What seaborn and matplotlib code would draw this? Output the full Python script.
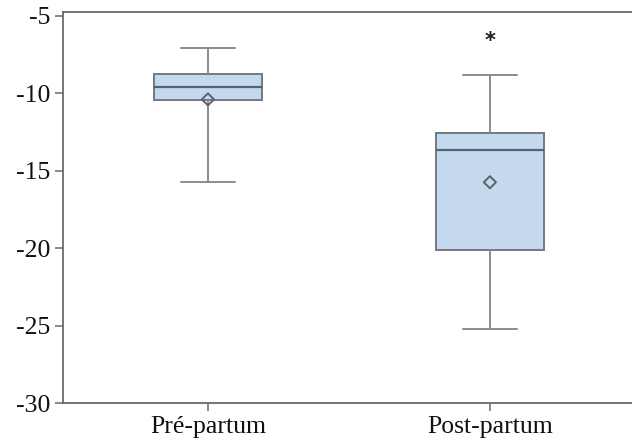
import numpy as np
import pandas as pd
import matplotlib
matplotlib.use("Agg")
import matplotlib.pyplot as plt
import seaborn as sns

# Data: five-number summaries
categories = ["Pré-partum", "Post-partum"]
whisker_low = [-15.75, -25.2]
q1 = [-10.43, -20.1]
median = [-9.62, -13.64]
q3 = [-8.74, -12.6]
whisker_high = [-7.06, -8.81]
means = [-10.4, -15.75]
signif_labels = ["", "*"]
signif_y = [None, -6.65]

rows = []
for i, c in enumerate(categories):
    for v in (whisker_low[i], q1[i], median[i], q3[i], whisker_high[i]):
        rows.append({"group": c, "value": v})
df = pd.DataFrame(rows)
mean_df = pd.DataFrame({"group": categories, "value": means})

sns.set_style("white")
plt.rcParams["font.family"] = ["Liberation Serif", "DejaVu Serif"]

fig = plt.figure(figsize=(6.32, 4.47), dpi=100)
ax = fig.add_axes([63 / 632, 1 - 403 / 447, 1 - 63 / 632, (403 - 12) / 447])

edge = "#72797f"
sns.boxplot(data=df, x="group", y="value", order=categories, whis=(0, 100),
            width=0.385, color="#c5d9ee", saturation=1, linewidth=1.4,
            linecolor=edge, ax=ax,
            boxprops=dict(facecolor="#c5d9ee", edgecolor=edge),
            whiskerprops=dict(color="#8a8d90"),
            capprops=dict(color="#8a8d90"),
            medianprops=dict(color="#59636d", linewidth=1.6))

sns.scatterplot(data=mean_df, x="group", y="value", marker="D", s=38,
                facecolor="none", edgecolor="#59636d", linewidth=1.4,
                ax=ax, zorder=5, legend=False)

for i, lab in enumerate(signif_labels):
    if lab:
        ax.text(i, signif_y[i], lab, ha="center", va="center",
                fontsize=15, color="#1a1a1a", family="DejaVu Sans",
                fontweight="bold")

ax.set_xlim(-0.514, 1.504)
ax.set_ylim(-30, -4.76)
ax.set_yticks([-30, -25, -20, -15, -10, -5])
ax.set_yticklabels(["-30", "-25", "-20", "-15", "-10", "-5"])
ax.set_xlabel("")
ax.set_ylabel("")

for s in ["left", "bottom", "top"]:
    ax.spines[s].set_visible(True)
    ax.spines[s].set_color("#6a6a6a")
    ax.spines[s].set_linewidth(1.3)
ax.spines["right"].set_visible(False)

ax.tick_params(axis="both", which="both", direction="out", length=6,
               width=1.1, color="#6a6a6a", labelsize=18.5, labelcolor="#111111",
               left=True, bottom=True, pad=3)

fig.savefig("out.png", dpi=100)
